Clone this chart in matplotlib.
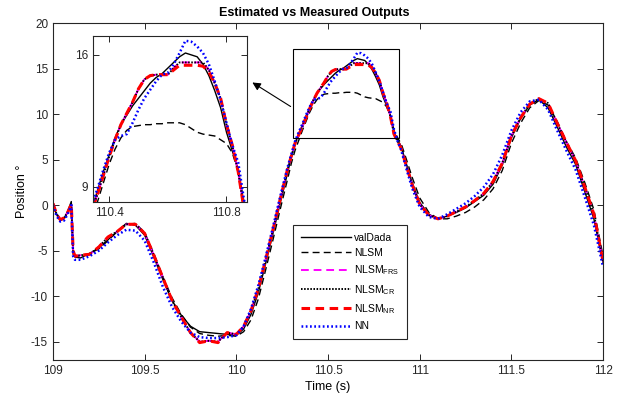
import matplotlib
matplotlib.use('Agg')
import matplotlib.pyplot as plt
from matplotlib.patches import Rectangle, FancyArrowPatch

plt.rcParams['font.family'] = ['Liberation Sans', 'DejaVu Sans']
plt.rcParams['mathtext.fontset'] = 'custom'
plt.rcParams['mathtext.rm'] = 'Liberation Sans'
plt.rcParams['axes.unicode_minus'] = False

# time (s)
t = [109.00, 109.02, 109.04, 109.06, 109.08, 109.10, 109.11, 109.12, 109.15,
     109.20, 109.25, 109.30, 109.35, 109.40, 109.45, 109.50, 109.55, 109.60,
     109.65, 109.70, 109.75, 109.80, 109.85, 109.90, 109.95, 110.00,
     110.04, 110.08, 110.12, 110.16, 110.20, 110.24, 110.28,
     110.30, 110.32, 110.34, 110.36, 110.38, 110.40, 110.42, 110.44, 110.46,
     110.48, 110.50, 110.52, 110.54, 110.56, 110.58, 110.60,
     110.62, 110.64, 110.66, 110.68, 110.70, 110.72, 110.74, 110.76, 110.78,
     110.80, 110.82, 110.84, 110.86, 110.88, 110.90,
     110.92, 110.96, 111.00, 111.05, 111.10, 111.15, 111.20, 111.25, 111.30,
     111.35, 111.40, 111.45,
     111.50, 111.55, 111.60, 111.65, 111.70, 111.75, 111.80, 111.85, 111.90,
     111.95, 112.00]

val_dada = [0.0, -1.0, -1.7, -1.5, -0.7, 0.4, -5.4, -5.7, -5.8,
            -5.3, -4.7, -3.8, -2.9, -2.0, -2.2, -3.3, -5.7, -8.2, -10.5, -12.1, -13.3, -13.9, -14.0, -14.1, -14.2, -14.3,
            -13.6, -12.0, -9.6, -6.4, -3.1, 0.3, 3.6,
            5.3, 6.7, 7.8, 8.8, 9.8, 10.7, 11.6, 12.3, 12.8, 13.3, 13.7, 14.1, 14.5, 14.8, 15.0, 15.3,
            15.6, 15.9, 16.1, 16.0, 15.9, 15.5, 14.9, 14.1, 13.2, 11.9, 10.9, 9.9, 8.0, 7.2, 6.4,
            5.0, 2.4, 0.3, -1.0, -1.5, -1.2, -0.8, -0.3, 0.4, 1.1, 2.3, 4.4,
            7.4, 9.5, 11.0, 11.6, 10.7, 8.6, 6.4, 4.5, 1.5, -1.5, -6.3]

nlsm = [0.1, -0.9, -1.6, -1.5, -0.8, 0.2, -5.2, -5.6, -5.6,
        -5.3, -4.8, -3.9, -2.9, -2.1, -2.0, -3.0, -5.3, -7.9, -10.2, -12.0, -13.4, -14.1, -14.3, -14.4, -14.3, -14.4,
        -13.9, -12.6, -10.3, -7.1, -3.8, -0.4, 2.9,
        4.6, 6.0, 7.1, 8.2, 9.2, 10.2, 11.0, 11.6, 12.0, 12.2, 12.25, 12.3, 12.3, 12.35, 12.35, 12.4,
        12.4, 12.4, 12.3, 12.1, 11.9, 11.8, 11.75, 11.7, 11.5, 11.3, 10.8, 9.8, 8.2, 7.4, 6.7,
        5.5, 3.0, 0.8, -0.8, -1.5, -1.5, -1.2, -0.8, -0.2, 0.6, 1.8, 3.8,
        6.8, 9.0, 10.7, 11.5, 11.0, 9.2, 7.0, 5.2, 2.5, -0.5, -5.6]

nlsm_frs = [0.2, -1.0, -1.6, -1.4, -0.8, 0.1, -5.0, -5.6, -5.5,
            -5.4, -4.6, -3.5, -2.9, -2.1, -2.1, -3.1, -5.5, -8.0, -10.5, -12.3, -14.0, -15.0, -14.9, -15.0, -14.0, -14.2,
            -13.3, -11.6, -9.2, -6.0, -2.7, 0.7, 4.0,
            5.4, 6.8, 7.7, 8.6, 9.6, 10.6, 11.5, 12.3, 12.9, 13.5, 14.2, 14.7, 14.9, 14.95, 14.95, 14.95,
            15.3, 15.6, 15.6, 15.6, 15.6, 15.6, 15.2, 14.5, 13.7, 12.3, 11.2, 9.8, 7.8, 7.0, 6.2,
            4.8, 2.2, 0.1, -1.1, -1.5, -1.2, -0.7, -0.2, 0.5, 1.3, 2.6, 4.6,
            7.6, 9.6, 11.1, 11.7, 11.2, 9.0, 6.9, 4.9, 2.0, -1.0, -6.2]

nlsm_cr = [0.2, -1.0, -1.6, -1.4, -0.8, 0.1, -5.0, -5.6, -5.5,
           -5.4, -4.6, -3.5, -2.9, -2.1, -2.1, -3.1, -5.5, -8.0, -10.5, -12.3, -14.0, -15.0, -14.9, -15.0, -14.0, -14.2,
           -13.3, -11.6, -9.2, -6.0, -2.7, 0.7, 4.0,
           5.4, 6.8, 7.7, 8.6, 9.6, 10.6, 11.5, 12.3, 12.9, 13.5, 14.2, 14.7, 14.9, 14.95, 14.95, 14.95,
           15.3, 15.6, 15.6, 15.6, 15.6, 15.6, 15.2, 14.5, 13.7, 12.3, 11.2, 9.8, 7.8, 7.0, 6.2,
           4.8, 2.2, 0.1, -1.1, -1.5, -1.2, -0.7, -0.2, 0.5, 1.3, 2.6, 4.6,
           7.6, 9.6, 11.1, 11.7, 11.2, 9.0, 6.9, 4.9, 2.0, -1.0, -6.2]

nlsm_nr = [0.2, -1.0, -1.6, -1.4, -0.8, 0.1, -5.0, -5.6, -5.5,
           -5.4, -4.6, -3.5, -2.9, -2.1, -2.1, -3.1, -5.5, -8.0, -10.5, -12.3, -14.0, -15.1, -14.9, -15.1, -14.0, -14.2,
           -13.3, -11.6, -9.2, -6.0, -2.7, 0.7, 4.0,
           5.4, 6.8, 7.7, 8.6, 9.6, 10.6, 11.5, 12.3, 12.9, 13.5, 14.2, 14.7, 14.9, 14.95, 14.95, 14.95,
           15.2, 15.45, 15.45, 15.45, 15.45, 15.4, 15.1, 14.5, 13.7, 12.3, 11.2, 9.8, 7.8, 7.0, 6.2,
           4.8, 2.2, 0.1, -1.1, -1.5, -1.2, -0.7, -0.2, 0.5, 1.3, 2.6, 4.6,
           7.6, 9.6, 11.1, 11.7, 11.2, 9.0, 6.9, 4.9, 2.0, -1.0, -6.2]

nn = [0.0, -1.2, -1.8, -1.7, -1.0, 0.0, -5.6, -6.0, -6.0,
      -5.6, -5.0, -4.1, -3.3, -2.7, -2.8, -3.9, -6.3, -9.0, -11.2, -12.8, -14.0, -14.5, -14.6, -14.6, -14.5, -14.3,
      -13.3, -11.4, -8.8, -5.7, -2.4, 1.0, 4.2,
      5.6, 7.0, 8.0, 8.9, 9.9, 10.8, 11.5, 11.7, 11.8, 12.4, 13.1, 13.7, 14.15, 14.6, 14.95, 15.05,
      15.5, 16.1, 16.75, 16.7, 16.45, 16.1, 15.5, 14.6, 13.6, 12.4, 11.2, 10.3, 8.3, 7.0, 6.0,
      4.5, 1.8, -0.2, -1.3, -1.5, -1.0, -0.4, 0.2, 1.0, 2.0, 3.4, 5.5,
      8.2, 10.2, 11.4, 11.6, 10.5, 8.2, 6.0, 3.9, 0.9, -2.2, -6.8]

labels = ['valDada', 'NLSM', r'NLSM$_\mathregular{FRS}$', r'NLSM$_\mathregular{CR}$',
          r'NLSM$_\mathregular{NR}$', 'NN']

axis_col = '#262626'


def draw_series(ax):
    ax.plot(t, val_dada, color='black', lw=1.0, label=labels[0])
    ax.plot(t, nlsm, color='black', lw=1.0, ls=(0, (5, 3)), label=labels[1])
    ax.plot(t, nlsm_frs, color='#ff00ff', lw=1.4, ls=(0, (4, 2.5)), label=labels[2])
    ax.plot(t, nlsm_cr, color='black', lw=1.4, ls=(0, (0.8, 0.8)), label=labels[3])
    ax.plot(t, nlsm_nr, color='#ff0000', lw=2.2, ls=(0, (2.8, 1.8)), label=labels[4])
    ax.plot(t, nn, color='#0000ff', lw=1.8, ls=(0, (0.7, 1.0)), label=labels[5])


def style_axes(ax):
    for s in ax.spines.values():
        s.set_color(axis_col)
        s.set_linewidth(0.8)
    ax.tick_params(direction='in', top=True, right=True, colors=axis_col,
                   labelcolor='#262626', labelsize=8.5, length=4, width=0.7)


fig = plt.figure(figsize=(6.23, 3.99), dpi=100)
ax = fig.add_axes([0.085, 0.098, 0.883, 0.844])
draw_series(ax)
ax.set_xlim(109, 112)
ax.set_ylim(-17, 20)
ax.set_yticks([-15, -10, -5, 0, 5, 10, 15, 20])
ax.set_xticks([109, 109.5, 110, 110.5, 111, 111.5, 112])
ax.set_xticklabels(['109', '109.5', '110', '110.5', '111', '111.5', '112'])
style_axes(ax)
ax.set_title('Estimated vs Measured Outputs', fontsize=9, fontweight='bold',
             pad=5, x=0.475)
ax.set_xlabel('Time (s)', fontsize=9, labelpad=3)
ax.set_ylabel('Position °', fontsize=9, labelpad=2)

ax.add_patch(Rectangle((110.31, 7.33), 0.576, 9.79, fill=False,
                       edgecolor='black', lw=0.8, zorder=5))

leg = ax.legend(loc='upper left', bbox_to_anchor=(0.436, 0.401), fontsize=7.5,
                frameon=True, fancybox=False, framealpha=1, edgecolor=axis_col,
                handlelength=4.8, handletextpad=0.3, labelspacing=0.52,
                borderpad=0.75, borderaxespad=0)
leg.get_frame().set_linewidth(0.8)

# zoomed inset
ins = fig.add_axes([0.1493, 0.4937, 0.2472, 0.416])
draw_series(ins)
ins.set_xlim(110.345, 110.87)
ins.set_ylim(8.2, 17.0)
ins.set_xticks([110.4, 110.8])
ins.set_yticks([9, 16])
style_axes(ins)

fig.add_artist(FancyArrowPatch(
    (293 / 623, 1 - 108 / 399), (250 / 623, 1 - 81 / 399),
    transform=fig.transFigure, arrowstyle='-|>', mutation_scale=12,
    color='black', lw=0.8))

fig.savefig('out.png', dpi=100)
